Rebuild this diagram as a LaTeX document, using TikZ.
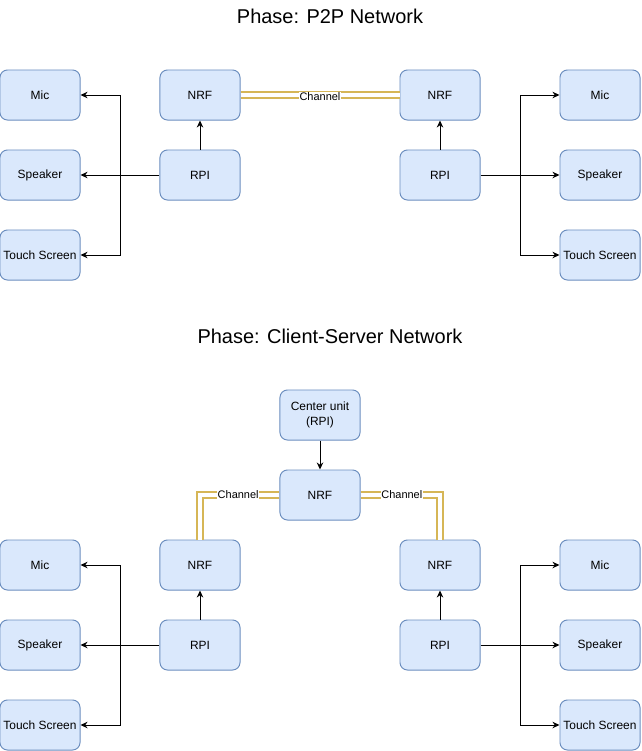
\documentclass[tikz,border=0pt]{standalone}
\usepackage{fontspec}
\setmainfont{Liberation Sans}
\usetikzlibrary{arrows.meta,positioning}
\definecolor{boxfill}{HTML}{DAE8FC}
\definecolor{boxline}{HTML}{6C8EBF}
\definecolor{chanline}{HTML}{D6B656}

\begin{document}
\begin{tikzpicture}[>={Stealth[length=5pt,width=4.6pt]}, x=0.025cm, y=-0.025cm]
	\useasboundingbox (0,0) rectangle (641,751);
	% ------------------------------------------------------------------
	% STYLE DEFINITIONS
	% ------------------------------------------------------------------
	\tikzset{
		unit/.style      = {draw=boxline, fill=boxfill, rounded corners=5.3pt, line width=0.7pt,
		                    minimum width=2cm, minimum height=1.25cm, inner sep=1pt,
		                    align=center, font=\fontsize{8.5}{10.2}\selectfont},
		wire/.style      = {->, line width=0.7pt, black},
		chan/.style      = {draw=chanline, double=white, double distance=2.2pt, line width=1.45pt},
		chanlabel/.style = {fill=white, inner sep=0.6pt, font=\fontsize{7.8}{9}\selectfont},
		phase/.style     = {font=\fontsize{14.2}{17}\selectfont}
	}
	
	% ------------------------------------------------------------------
	% PHASE 1: P2P NETWORK
	% ------------------------------------------------------------------
	\node[phase] (t1) at (330,16) {Phase: P2P Network};
	
	% --- Left station ---
	\node[unit] (micL) at (40,95)  {Mic};
	\node[unit] (spkL) at (40,175) {Speaker};
	\node[unit] (tchL) at (40,255) {Touch Screen};
	\node[unit] (nrfL) at (200,95)  {NRF};
	\node[unit] (rpiL) at (200,175) {RPI};
	\coordinate (brL) at (120,175);
	\draw[wire] (rpiL) -- (nrfL);
	\draw[wire] (rpiL) -- (spkL);
	\draw[wire] (brL) |- (micL);
	\draw[wire] (brL) |- (tchL);
	
	% --- Right station ---
	\node[unit] (nrfR) at (440,95)  {NRF};
	\node[unit] (rpiR) at (440,175) {RPI};
	\node[unit] (micR) at (600,95)  {Mic};
	\node[unit] (spkR) at (600,175) {Speaker};
	\node[unit] (tchR) at (600,255) {Touch Screen};
	\coordinate (brR) at (520,175);
	\draw[wire] (rpiR) -- (nrfR);
	\draw[wire] (rpiR) -- (spkR);
	\draw[wire] (brR) |- (micR);
	\draw[wire] (brR) |- (tchR);
	
	% --- Radio link ---
	\draw[chan] (nrfL) -- (nrfR) node[midway, chanlabel, yshift=-1pt] {Channel};
	
	% ------------------------------------------------------------------
	% PHASE 2: CLIENT-SERVER NETWORK
	% ------------------------------------------------------------------
	\node[phase] (t2) at (330,336) {Phase: Client-Server Network};
	
	% --- Center unit ---
	\node[unit] (ctr)  at (320,415) {Center unit\\(RPI)};
	\node[unit] (nrfC) at (320,495) {NRF};
	\draw[wire] (ctr) -- (nrfC);
	
	% --- Left client ---
	\node[unit] (micBL) at (40,565) {Mic};
	\node[unit] (spkBL) at (40,645) {Speaker};
	\node[unit] (tchBL) at (40,725) {Touch Screen};
	\node[unit] (nrfBL) at (200,565) {NRF};
	\node[unit] (rpiBL) at (200,645) {RPI};
	\coordinate (brBL) at (120,645);
	\draw[wire] (rpiBL) -- (nrfBL);
	\draw[wire] (rpiBL) -- (spkBL);
	\draw[wire] (brBL) |- (micBL);
	\draw[wire] (brBL) |- (tchBL);
	
	% --- Right client ---
	\node[unit] (nrfBR) at (440,565) {NRF};
	\node[unit] (rpiBR) at (440,645) {RPI};
	\node[unit] (micBR) at (600,565) {Mic};
	\node[unit] (spkBR) at (600,645) {Speaker};
	\node[unit] (tchBR) at (600,725) {Touch Screen};
	\coordinate (brBR) at (520,645);
	\draw[wire] (rpiBR) -- (nrfBR);
	\draw[wire] (rpiBR) -- (spkBR);
	\draw[wire] (brBR) |- (micBR);
	\draw[wire] (brBR) |- (tchBR);
	
	% --- Radio links ---
	\draw[chan] (nrfC.west) -| (nrfBL.north) node[pos=0.26, chanlabel] {Channel};
	\draw[chan] (nrfC.east) -| (nrfBR.north) node[pos=0.26, chanlabel] {Channel};
	
\end{tikzpicture}
\end{document}
